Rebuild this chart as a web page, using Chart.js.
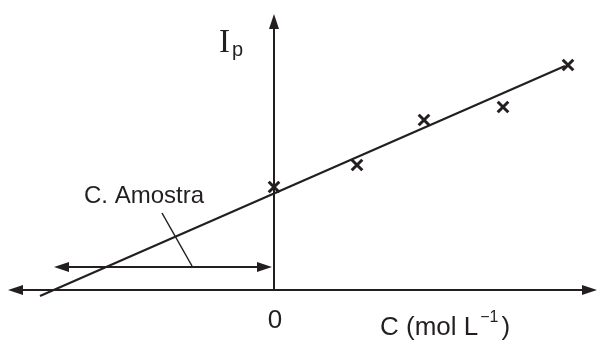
<!DOCTYPE html>
<html>
<head>
<meta charset="utf-8">
<script src="https://cdn.jsdelivr.net/npm/chart.js@4"></script>
<style>
    body { margin: 0; background: #fff; }
    .chart-box { width: 601px; height: 342px; }
</style>
</head>
<body>
<div class="chart-box"><canvas id="adicaoChart"></canvas></div>
<script>
// Pontos da adição de padrão (concentração adicionada, corrente de pico)
const concAdicionada = [0, 0.83, 1.50, 2.29, 2.94];
const correntePico = [1.03, 1.25, 1.70, 1.83, 2.25];

// Reta de regressão (extremos)
const retaX = [-2.34, 2.91];
const retaY = [-0.06, 2.24];

// Seta "C. Amostra" e linha de chamada
const amostraSetaX = [-2.20, -0.02];
const amostraSetaY = 0.23;
const chamadaX = [-1.12, -0.82];
const chamadaY = [0.77, 0.24];

// Eixos
const eixoX = [-2.66, 3.23];
const eixoYTopo = 2.76;
const ticksX = ['0'];

const cor = '#231f20';

function seta(ctx, x1, y1, x2, y2) {
    const ang = Math.atan2(y2 - y1, x2 - x1);
    const len = 15, half = 5;
    ctx.beginPath();
    ctx.moveTo(x2, y2);
    ctx.lineTo(x2 - len * Math.cos(ang) + half * Math.sin(ang), y2 - len * Math.sin(ang) - half * Math.cos(ang));
    ctx.lineTo(x2 - len * Math.cos(ang) - half * Math.sin(ang), y2 - len * Math.sin(ang) + half * Math.cos(ang));
    ctx.closePath();
    ctx.fill();
}

const desenhoPlugin = {
    id: 'desenho',
    beforeDatasetsDraw(chart) {
        const ctx = chart.ctx;
        const sx = chart.scales.x, sy = chart.scales.y;
        const x0 = sx.getPixelForValue(0), y0 = sy.getPixelForValue(0);
        ctx.save();
        ctx.strokeStyle = cor;
        ctx.fillStyle = cor;
        ctx.lineWidth = 2;

        // eixo x com setas nos dois lados
        const xa = sx.getPixelForValue(eixoX[0]), xb = sx.getPixelForValue(eixoX[1]);
        ctx.beginPath();
        ctx.moveTo(xa + 10, y0);
        ctx.lineTo(xb - 10, y0);
        ctx.stroke();
        seta(ctx, x0, y0, xa, y0);
        seta(ctx, x0, y0, xb, y0);

        // eixo y
        const yt = sy.getPixelForValue(eixoYTopo);
        ctx.beginPath();
        ctx.moveTo(x0, y0);
        ctx.lineTo(x0, yt + 10);
        ctx.stroke();
        seta(ctx, x0, y0, x0, yt);

        // seta dupla da amostra
        const ay = sy.getPixelForValue(amostraSetaY);
        const al = sx.getPixelForValue(amostraSetaX[0]), ar = sx.getPixelForValue(amostraSetaX[1]);
        ctx.beginPath();
        ctx.moveTo(al + 10, ay);
        ctx.lineTo(ar - 10, ay);
        ctx.stroke();
        seta(ctx, ar, ay, al, ay);
        seta(ctx, al, ay, ar, ay);

        // linha de chamada
        ctx.lineWidth = 1.5;
        ctx.beginPath();
        ctx.moveTo(sx.getPixelForValue(chamadaX[0]), sy.getPixelForValue(chamadaY[0]));
        ctx.lineTo(sx.getPixelForValue(chamadaX[1]), sy.getPixelForValue(chamadaY[1]));
        ctx.stroke();

        // textos
        ctx.textBaseline = 'alphabetic';
        ctx.textAlign = 'left';
        ctx.font = '24px "Liberation Sans", Arial, sans-serif';
        ctx.fillText('C. Amostra', 84, 203);

        ctx.textAlign = 'center';
        ctx.font = '26px "Liberation Sans", Arial, sans-serif';
        ctx.fillText(ticksX[0], x0 + 1, 328);

        // titulo do eixo x
        ctx.textAlign = 'left';
        ctx.font = '26px "Liberation Sans", Arial, sans-serif';
        ctx.fillText('C (mol L', 380, 335);
        const w = ctx.measureText('C (mol L').width;
        ctx.font = '16px "Liberation Sans", Arial, sans-serif';
        ctx.fillText('\u22121', 380 + w + 2, 322);
        const w2 = ctx.measureText('\u22121').width;
        ctx.font = '26px "Liberation Sans", Arial, sans-serif';
        ctx.fillText(')', 380 + w + w2 + 5, 335);

        ctx.font = '33px "Liberation Serif", "Times New Roman", serif';
        ctx.fillText('I', 219, 52);
        ctx.font = '20px "Liberation Sans", Arial, sans-serif';
        ctx.fillText('p', 232, 56);
        ctx.restore();
    }
};

new Chart(document.getElementById('adicaoChart').getContext('2d'), {
    type: 'scatter',
    data: {
        datasets: [{
            type: 'line',
            data: retaX.map((x, i) => ({ x: x, y: retaY[i] })),
            borderColor: cor,
            borderWidth: 2.2,
            pointRadius: 0,
            fill: false
        }, {
            data: concAdicionada.map((x, i) => ({ x: x, y: correntePico[i] })),
            pointStyle: 'crossRot',
            pointRadius: 7.5,
            borderColor: cor,
            borderWidth: 3,
            backgroundColor: cor
        }]
    },
    options: {
        responsive: true,
        maintainAspectRatio: false,
        animation: false,
        layout: { padding: 0, autoPadding: false },
        plugins: {
            legend: { display: false },
            tooltip: { enabled: false }
        },
        scales: {
            x: { type: 'linear', min: -2.74, max: 3.27, display: false },
            y: { type: 'linear', min: -0.52, max: 2.90, display: false }
        }
    },
    plugins: [desenhoPlugin]
});
</script>
</body>
</html>
